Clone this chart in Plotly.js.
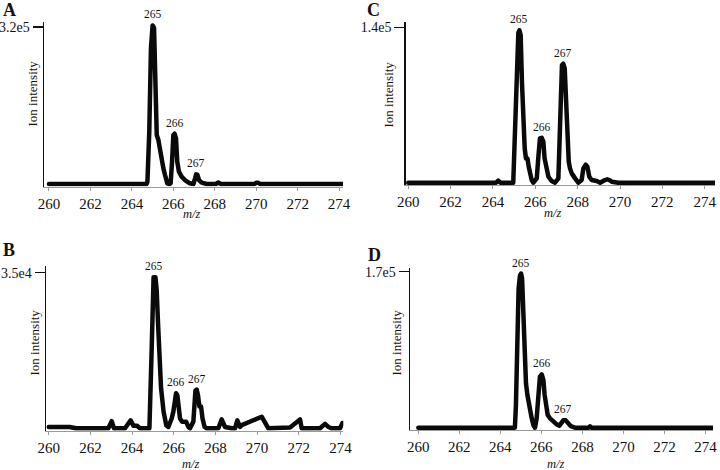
<!DOCTYPE html>
<html>
<head>
<meta charset="utf-8">
<script src="https://cdn.plot.ly/plotly-3.0.1.min.js"></script>
<style>
html,body{margin:0;padding:0;background:#fff;}
#chart{width:720px;height:470px;}
.js-line{stroke-linejoin:round;stroke-linecap:round;}
</style>
</head>
<body>
<div id="chart"></div>
<script>
// ---------- data (m/z vs ion intensity) ----------
const xTickVals = [260, 262, 264, 266, 268, 270, 272, 274];
const xTickText = ['260', '262', '264', '266', '268', '270', '272', '274'];
const peakLabels = ['265', '266', '267'];

// Panel A
const mzA = [260, 263.95, 264.07, 264.2, 264.71, 264.75, 264.84, 264.92, 265.0, 265.07, 265.13, 265.2, 265.28, 265.36, 265.44, 265.52, 265.6, 265.71, 265.81, 265.87, 265.94, 266.0, 266.06, 266.13, 266.19, 266.27, 266.4, 266.56, 266.8, 266.97, 267.05, 267.1, 267.16, 267.24, 267.37, 267.61, 268.05, 268.17, 268.3, 269.02, 269.14, 269.26, 269.92, 270.0, 270.1, 270.18, 271.15, 271.23, 271.31, 272.12, 272.2, 272.28, 274.5];
const intA = [0, 0, 2000, 0, 0, 4750, 106600, 276400, 323000, 318000, 242400, 99800, 89600, 65900, 45500, 31900, 18300, 1400, 0, 1400, 45500, 99800, 102500, 93000, 45500, 25100, 14900, 8100, 1400, 0, 11500, 19700, 19000, 8100, 2700, 0, 0, 3000, 0, 0, 2000, 0, 0, 2500, 2500, 0, 0, 1500, 0, 0, 1500, 0, 0];

// Panel B
const mzB = [260, 261.0, 261.3, 262.86, 263.02, 263.13, 263.66, 263.93, 264.06, 264.22, 264.38, 264.83, 264.94, 265.03, 265.12, 265.18, 265.24, 265.34, 265.39, 265.51, 265.64, 265.74, 265.82, 265.9, 265.98, 266.05, 266.11, 266.17, 266.24, 266.3, 266.4, 266.59, 266.7, 266.78, 266.94, 267.04, 267.1, 267.16, 267.23, 267.31, 267.38, 267.48, 267.58, 268.14, 268.3, 268.46, 268.78, 268.94, 269.05, 269.18, 269.26, 270.22, 270.54, 271.58, 272.06, 272.14, 273.02, 273.26, 273.42, 273.58, 273.98, 274.1, 274.3];
const intB = [300, 300, 0, 0, 1600, 0, 0, 1800, 600, 600, 0, 0, 18000, 34000, 34000, 31000, 24000, 10500, 9000, 3750, 700, 300, 1100, 2200, 3750, 7500, 7900, 7500, 5200, 2200, 1500, 1500, 300, 0, 1500, 8500, 8700, 7500, 4900, 4900, 2200, 300, 0, 0, 2000, 300, 0, 0, 1800, 300, 700, 2600, 0, 200, 2000, 0, 0, 1000, 300, 0, 0, 1200, 1200];

// Panel C
const mzC = [260, 262.15, 262.21, 262.28, 263.1, 263.15, 263.2, 264.15, 264.25, 264.35, 264.96, 265.04, 265.12, 265.2, 265.25, 265.31, 265.37, 265.44, 265.5, 265.56, 265.63, 265.69, 265.75, 265.83, 265.91, 266.07, 266.14, 266.22, 266.3, 266.38, 266.44, 266.51, 266.62, 266.77, 266.93, 267.09, 267.14, 267.2, 267.26, 267.32, 267.39, 267.45, 267.51, 267.58, 267.64, 267.72, 267.88, 268.03, 268.19, 268.27, 268.38, 268.46, 268.55, 268.66, 268.9, 269.06, 269.29, 269.4, 269.5, 269.61, 269.92, 270.55, 270.6, 270.65, 271.35, 271.45, 271.55, 271.9, 272.4, 272.5, 272.6, 273.95, 274.0, 274.05, 274.6];
const intC = [0, 0, 1000, 0, 0, 800, 0, 0, 1800, 0, 0, 45900, 106000, 135000, 137200, 133000, 91000, 52000, 30900, 21900, 21900, 14400, 6900, 2400, 0, 3900, 21900, 39900, 40500, 36900, 21900, 12900, 5400, 1500, 0, 3900, 30900, 76000, 106000, 107200, 103000, 76000, 45900, 18900, 12900, 8400, 3900, 0, 2400, 12900, 16200, 14400, 5400, 2400, 1500, 0, 2400, 3000, 2400, 900, 0, 0, 700, 0, 0, 700, 500, 0, 0, 700, 0, 0, 600, 0, 0];

// Panel D
const mzD = [260, 264.71, 264.76, 264.83, 264.89, 264.96, 265.01, 265.06, 265.12, 265.19, 265.25, 265.32, 265.41, 265.53, 265.61, 265.69, 265.77, 265.85, 265.93, 266.02, 266.1, 266.16, 266.23, 266.31, 266.42, 266.58, 266.75, 266.88, 266.96, 267.07, 267.19, 267.3, 267.43, 267.64, 268.3, 268.37, 268.45, 274.5];
const intD = [0, 0, 24700, 97300, 151800, 166000, 168000, 162700, 122800, 79200, 48300, 35600, 21100, 10200, 2900, 0, 10200, 35600, 55600, 58000, 51900, 35600, 21100, 13800, 10200, 6500, 3600, 2200, 4700, 8000, 8000, 4700, 1800, 0, 0, 1500, 0, 0];

// y-axis top tick of each panel
const yTickA = [3.2e5], yTickTextA = ['3.2e5'];
const yTickB = [3.5e4], yTickTextB = ['3.5e4'];
const yTickC = [1.4e5], yTickTextC = ['1.4e5'];
const yTickD = [1.7e5], yTickTextD = ['1.7e5'];

// ---------- layout helpers ----------
const W = 720, H = 470;
const SERIF = 'Liberation Serif';
const px = v => v / W;
const py = v => 1 - v / H;

const panels = [
  {name: 'A', xs: mzA, ys: intA, xa: 'x',  ya: 'y',
   xdom: [px(44), px(343)], xr: [259.759, 274.189], ydom: [py(186.5), py(22)], yr: [-5093, 330037],
   tv: yTickA, tt: yTickTextA, letter: [9, 10], ylab: [32.5, 94], mz: [192, 214]},
  {name: 'C', xs: mzC, ys: intC, xa: 'x2', ya: 'y2',
   xdom: [px(405.7), px(715)], xr: [259.882, 274.485], ydom: [py(185.2), py(22.3)], yr: [-2252, 144504],
   tv: yTickC, tt: yTickTextC, letter: [373, 10], ylab: [387.5, 95], mz: [553, 213]},
  {name: 'B', xs: mzB, ys: intB, xa: 'x3', ya: 'y3',
   xdom: [px(46), px(343.3)], xr: [259.866, 274.138], ydom: [py(430.8), py(266)], yr: [-562, 36508],
   tv: yTickB, tt: yTickTextB, letter: [9, 250], ylab: [34, 342.5], mz: [191, 463.5]},
  {name: 'D', xs: mzD, ys: intD, xa: 'x4', ya: 'y4',
   xdom: [px(410), px(713)], xr: [259.595, 274.369], ydom: [py(430.2), py(268)], yr: [-2724, 174025],
   tv: yTickD, tt: yTickTextD, letter: [374, 255], ylab: [396, 342.5], mz: [556, 463.5]}
];

const traces = [];
const layout = {
  width: W, height: H,
  margin: {l: 0, r: 0, t: 0, b: 0},
  paper_bgcolor: '#ffffff', plot_bgcolor: '#ffffff',
  showlegend: false,
  font: {family: SERIF, color: '#111'},
  annotations: []
};

panels.forEach(p => {
  traces.push({
    type: 'scatter', mode: 'lines', x: p.xs, y: p.ys,
    xaxis: p.xa, yaxis: p.ya,
    line: {color: '#0a0a0a', width: 4.5},
    hoverinfo: 'skip'
  });
  const xKey = p.xa === 'x' ? 'xaxis' : 'xaxis' + p.xa.slice(1);
  const yKey = p.ya === 'y' ? 'yaxis' : 'yaxis' + p.ya.slice(1);
  layout[xKey] = {
    domain: p.xdom, range: p.xr, anchor: p.ya,
    showline: true, linecolor: '#9a9a9a', linewidth: 1,
    ticks: 'outside', ticklen: 3, tickwidth: 1, tickcolor: '#9a9a9a',
    tickmode: 'array', tickvals: xTickVals, ticktext: xTickText,
    tickfont: {family: SERIF, size: 15, color: '#111'},
    showgrid: false, zeroline: false, fixedrange: true
  };
  layout[yKey] = {
    domain: p.ydom, range: p.yr, anchor: p.xa,
    showline: true, linecolor: '#111', linewidth: 1.5,
    ticks: 'outside', ticklen: 10, tickwidth: 1.5, tickcolor: '#111',
    tickmode: 'array', tickvals: p.tv, ticktext: p.tt,
    tickfont: {family: SERIF, size: 14, color: '#111'},
    showgrid: false, zeroline: false, fixedrange: true
  };
  // panel letter
  layout.annotations.push({
    xref: 'paper', yref: 'paper', x: px(p.letter[0]), y: py(p.letter[1]),
    xanchor: 'center', yanchor: 'middle', showarrow: false,
    text: '<b>' + p.name + '</b>', font: {family: SERIF, size: 18, color: '#111'}
  });
  // y title
  layout.annotations.push({
    xref: 'paper', yref: 'paper', x: px(p.ylab[0]), y: py(p.ylab[1]),
    xanchor: 'center', yanchor: 'middle', showarrow: false, textangle: -90,
    text: 'Ion intensity', font: {family: SERIF, size: 13, color: '#111'}
  });
  // x title
  layout.annotations.push({
    xref: 'paper', yref: 'paper', x: px(p.mz[0]), y: py(p.mz[1]),
    xanchor: 'center', yanchor: 'middle', showarrow: false,
    text: '<i>m/z</i>', font: {family: SERIF, size: 12.5, color: '#111'}
  });
  // peak labels: anchored at the highest point near each nominal mass
  peakLabels.forEach(lbl => {
    const n = parseFloat(lbl);
    let bx = n, by = -Infinity;
    p.xs.forEach((xv, i) => {
      if (xv >= n - 0.5 && xv <= n + 0.5 && p.ys[i] > by) { by = p.ys[i]; bx = xv; }
    });
    layout.annotations.push({
      xref: p.xa, yref: p.ya, x: bx, y: by,
      xanchor: 'center', yanchor: 'bottom', yshift: 3, showarrow: false,
      text: lbl, font: {family: SERIF, size: 11.5, color: '#111'}
    });
  });
});

Plotly.newPlot('chart', traces, layout, {displayModeBar: false, staticPlot: true});
</script>
</body>
</html>
